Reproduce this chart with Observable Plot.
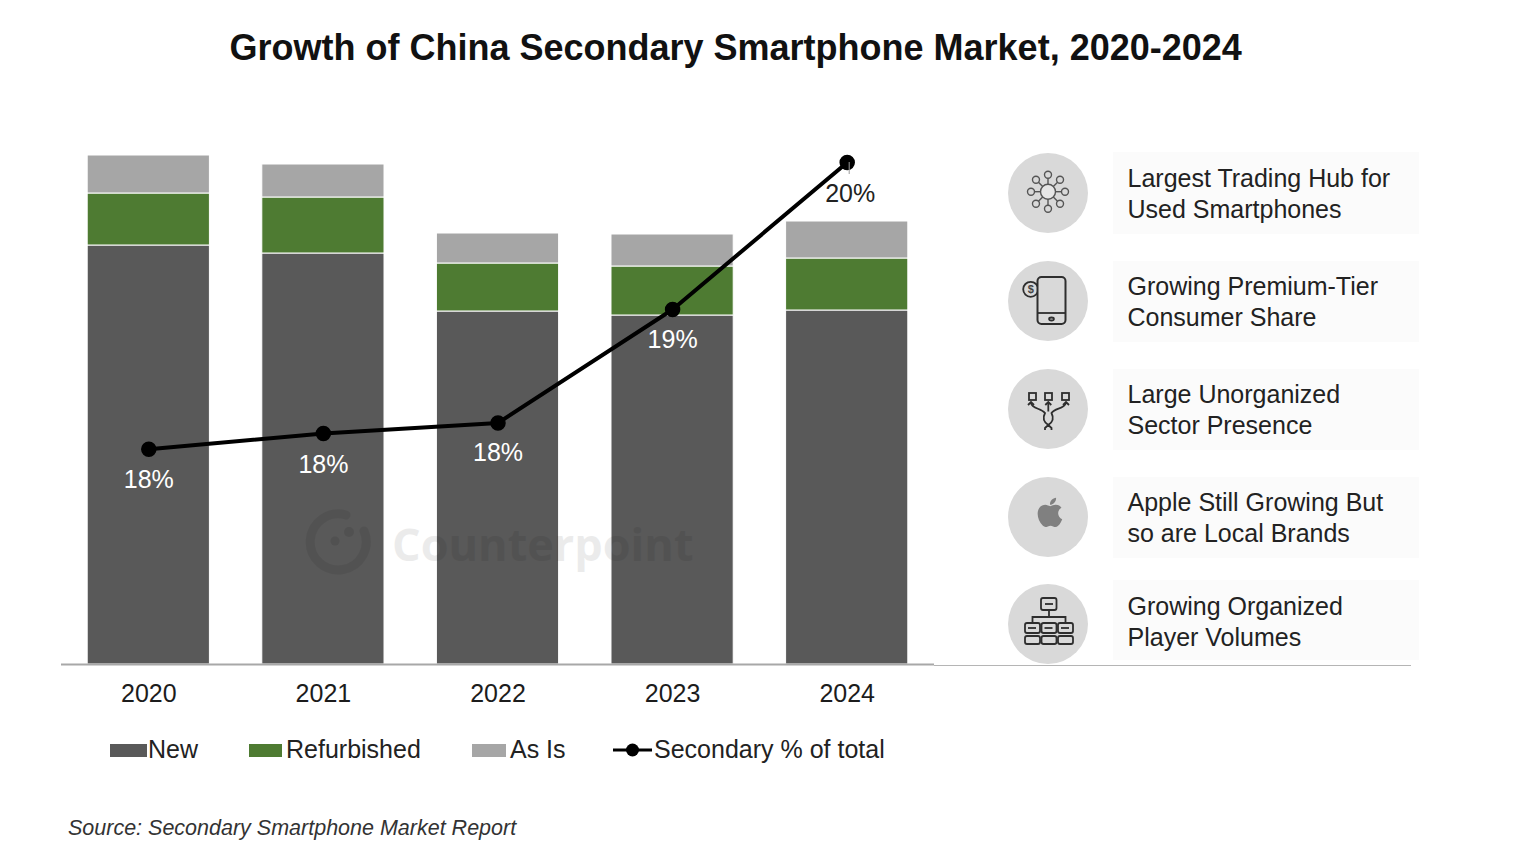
<!DOCTYPE html>
<html>
<head>
<meta charset="utf-8">
<script src="https://cdn.jsdelivr.net/npm/d3@7"></script>
<script src="https://cdn.jsdelivr.net/npm/@observablehq/plot@0.6"></script>
<style>
  html, body { margin: 0; padding: 0; background: #fff; }
  #page { position: relative; width: 1514px; height: 868px; overflow: hidden; font-family: "Liberation Sans", Arial, sans-serif; color: #1c1c1c; }
  #page > * { position: absolute; }
  h1 { margin: 0; left: 229.500px; top: 26px; font-size: 36px; line-height: 44px; font-weight: 700; color: #111; white-space: nowrap; }
  .box { left: 1113px; width: 306px; background: #fbfbfb; display: flex; align-items: center; box-sizing: border-box; padding-left: 14.500px; font-size: 25px; line-height: 31px; color: #222; }
  .leg { font-size: 25px; line-height: 30px; top: 734px; white-space: nowrap; color: #222; }
  .sw { height: 13px; top: 744px; }
  #source { left: 68px; top: 814px; font-size: 21.500px; line-height: 28px; font-style: italic; color: #333; white-space: nowrap; }
  #rule2 { left: 934px; width: 477px; top: 665px; height: 1px; background: #b5b5b5; }
  #wm { left: 392px; top: 512px; font-family: "Open Sans", sans-serif; font-weight: 700; font-size: 45px; line-height: 64px; color: #000; opacity: .075; white-space: nowrap; }
</style>
</head>
<body>
<div id="page"></div>
<script>
// ---- chart data (bar values are in relative volume units) ----
const years = ["2020", "2021", "2022", "2023", "2024"];
const newUnits = [419, 411, 353, 349, 354];
const refurbishedUnits = [52, 56, 48, 49, 52];
const asIsUnits = [38, 33, 30, 32, 37];
const secondaryShare = [17.57, 17.72, 17.82, 18.9, 20.3];
const shareLabels = ["18%", "18%", "18%", "19%", "20%"];
const seriesNames = ["New", "Refurbished", "As Is"];
const seriesColors = ["#595959", "#4e7b32", "#a6a6a6"];
const features = [
  ["Largest Trading Hub for", "Used Smartphones"],
  ["Growing Premium-Tier", "Consumer Share"],
  ["Large Unorganized", "Sector Presence"],
  ["Apple Still Growing But", "so are Local Brands"],
  ["Growing Organized", "Player Volumes"]
];

const bars = [];
[newUnits, refurbishedUnits, asIsUnits].forEach((vals, s) =>
  vals.forEach((v, i) => bars.push({year: years[i], series: seriesNames[s], value: v})));

// secondary axis (share, %) expressed on the primary y scale
const shareToY = d3.scaleLinear().domain([16, 21]).range([50.5, 575.5]);
const line = years.map((year, i) => ({year, y: shareToY(secondaryShare[i]), label: shareLabels[i]}));

const chart = Plot.plot({
  width: 1514, height: 868,
  marginLeft: 61, marginRight: 580, marginTop: 144, marginBottom: 204,
  style: {background: "transparent", fontFamily: "'Liberation Sans', Arial, sans-serif", fontSize: "25px"},
  x: {domain: years, paddingInner: 0.3, paddingOuter: 0.15, round: false, label: null},
  y: {domain: [0, 520], axis: null},
  color: {domain: seriesNames, range: seriesColors},
  marks: [
    Plot.barY(bars, {x: "year", y: "value", z: "series", fill: "series", stroke: "#fff", strokeWidth: 1}),
    Plot.ruleY([0], {stroke: "#a8a8a8", strokeWidth: 2}),
    Plot.axisX({tickSize: 0, tickPadding: 20, fontSize: 25, fill: "#1c1c1c", label: null}),
    Plot.line(line, {x: "year", y: "y", stroke: "#000", strokeWidth: 4}),
    Plot.dot(line, {x: "year", y: "y", r: 7, fill: "#000", stroke: "#000"}),
    Plot.ruleX(line.slice(4), {x: "year", y1: d => d.y, y2: d => d.y - 12, dx: 2, stroke: "#9a9a9a", strokeWidth: 1}),
    Plot.text(line.slice(0, 1), {x: "year", y: "y", text: "label", dy: 31, fill: "#fff", fontSize: 25}),
    Plot.text(line.slice(1, 2), {x: "year", y: "y", text: "label", dy: 32, fill: "#fff", fontSize: 25}),
    Plot.text(line.slice(2, 4), {x: "year", y: "y", text: "label", dy: 30, fill: "#fff", fontSize: 25}),
    Plot.text(line.slice(4), {x: "year", y: "y", text: "label", dy: 31, dx: 3, fill: "#222", fontSize: 25})
  ]
});

const page = document.getElementById("page");
chart.style.left = "0"; chart.style.top = "0";
page.appendChild(chart);

function add(tag, cls, html, style) {
  const el = document.createElement(tag);
  if (cls) el.className = cls;
  if (html) el.innerHTML = html;
  Object.assign(el.style, style || {});
  page.appendChild(el);
  return el;
}

add("h1", "", "Growth of China Secondary Smartphone Market, 2020-2024");
add("div", "", "", {}).id = "rule2";

// watermark
add("div", "", `<svg width="70" height="72" viewBox="0 0 70 72"><g fill="none" stroke="#000" stroke-opacity=".075"><path d="M42 6 A28 28 0 1 0 60 22" stroke-width="9" stroke-linecap="round"/></g><circle cx="31" cy="32" r="4.5" fill-opacity=".09"/><circle cx="45" cy="23" r="5" fill-opacity=".09"/></svg>`, {left: "304px", top: "509px", width: "70px", height: "72px"});
add("div", "", "Counterpoint").id = "wm";

// legend
const legendItems = [
  {name: "New", sx: 110, sw: 37, tx: 148, c: seriesColors[0]},
  {name: "Refurbished", sx: 249, sw: 33, tx: 286, c: seriesColors[1]},
  {name: "As Is", sx: 472, sw: 34, tx: 510, c: seriesColors[2]}
];
legendItems.forEach(d => {
  add("div", "sw", "", {left: d.sx + "px", width: d.sw + "px", background: d.c});
  add("div", "leg", d.name, {left: d.tx + "px"});
});
add("div", "", `<svg width="40" height="16"><line x1="0" x2="39" y1="8" y2="8" stroke="#000" stroke-width="3"/><circle cx="19.5" cy="8" r="6.5" fill="#000"/></svg>`, {left: "613px", top: "742px", width: "40px", height: "16px"});
add("div", "leg", "Secondary % of total", {left: "654px"});

add("div", "", "Source: Secondary Smartphone Market Report").id = "source";

// feature panel
const boxTops = [152, 261, 369, 477, 580];
const boxHeights = [82, 81, 81, 81, 80];
const textShift = [2, 0, 0, 0, 4];
const circleTops = [153, 261, 369, 477, 584];
const ink = `fill="none" stroke="#2e2e2e" stroke-width="1.8"`;
const hub = (() => {
  let s = `<circle cx="40" cy="38.700" r="7.500" fill="#e6e6e6" stroke="#555" stroke-width="1.4"/>`;
  for (let k = 0; k < 8; k++) {
    const a = k * Math.PI / 4, c = Math.cos(a), n = Math.sin(a);
    s += `<line x1="${40 + 7.5 * c}" y1="${38.7 + 7.5 * n}" x2="${40 + 13.5 * c}" y2="${38.7 + 13.5 * n}" stroke="#555" stroke-width="1.4"/>`;
    s += `<circle cx="${40 + 17 * c}" cy="${38.7 + 17 * n}" r="3.500" fill="none" stroke="#555" stroke-width="1.4"/>`;
  }
  return s;
})();
const phone = `<circle cx="22.700" cy="28.300" r="7.500" ${ink}/><text x="22.700" y="32.300" font-size="11" font-weight="700" text-anchor="middle" fill="#444" font-family="Liberation Sans">$</text><rect x="29.500" y="16" width="28" height="47" rx="4" fill="#d9d9d9" stroke="#2e2e2e" stroke-width="2"/><line x1="29.500" x2="57.500" y1="52" y2="52" stroke="#2e2e2e" stroke-width="1.8"/><ellipse cx="43.500" cy="58" rx="2.400" ry="1.500" ${ink}/>`;
const tree = `<g ${ink}><rect x="21" y="24" width="7" height="7"/><rect x="37" y="24" width="7" height="7"/><rect x="54" y="24" width="7" height="7"/><path d="M40.300 34 V42.500 M23 34 C24 40 33 39 37 44 C34.500 49 35.500 53 40.300 56 C45 53 46 49 43.500 44 C47 39 56 40 58 34 M37 61 V59 L40.300 56 L43.500 59 V61"/><path d="M20 36 L23 33 L26 36 M37.300 36 L40.300 33 L43.300 36 M55 36 L58 33 L61 36"/></g>`;
const apple = `<path transform="translate(22.500,16) scale(1.620)" fill="#808080" d="M17.05 20.28c-.98.95-2.05.8-3.08.35-1.09-.46-2.09-.48-3.24 0-1.44.62-2.2.44-3.06-.35C2.79 15.25 3.51 7.59 9.05 7.31c1.35.07 2.29.74 3.08.8 1.18-.24 2.31-.93 3.57-.84 1.51.12 2.65.72 3.4 1.8-3.12 1.87-2.38 5.98.48 7.13-.57 1.5-1.31 2.99-2.54 4.09zM12.03 7.25c-.15-2.23 1.66-4.07 3.74-4.25.29 2.58-2.34 4.5-3.74 4.25z"/>`;
const org = (() => {
  let s = `<g ${ink}><rect x="33" y="14" width="15.500" height="12" rx="2"/><path d="M41 26 V33 M24.500 38 V33 H57.500 V38"/>`;
  for (const x of [17, 33.5, 50]) {
    s += `<rect x="${x}" y="39" width="15" height="10" rx="2"/><rect x="${x}" y="52" width="15" height="8" rx="2"/><line x1="${x + 3}" x2="${x + 11}" y1="44" y2="44"/>`;
  }
  return s + `<line x1="37" x2="45" y1="20" y2="20"/></g>`;
})();
const icons = [hub, phone, tree, apple, org];

features.forEach((lines, i) => {
  add("div", "", `<svg width="80" height="80" viewBox="0 0 80 80"><circle cx="40" cy="40" r="40" fill="#d9d9d9"/>${icons[i]}</svg>`, {left: "1008px", top: circleTops[i] + "px", width: "80px", height: "80px"});
  add("div", "box", `<div>${lines[0]}<br>${lines[1]}</div>`, {top: boxTops[i] + "px", height: boxHeights[i] + "px", paddingTop: textShift[i] + "px"});
});
</script>
</body>
</html>
